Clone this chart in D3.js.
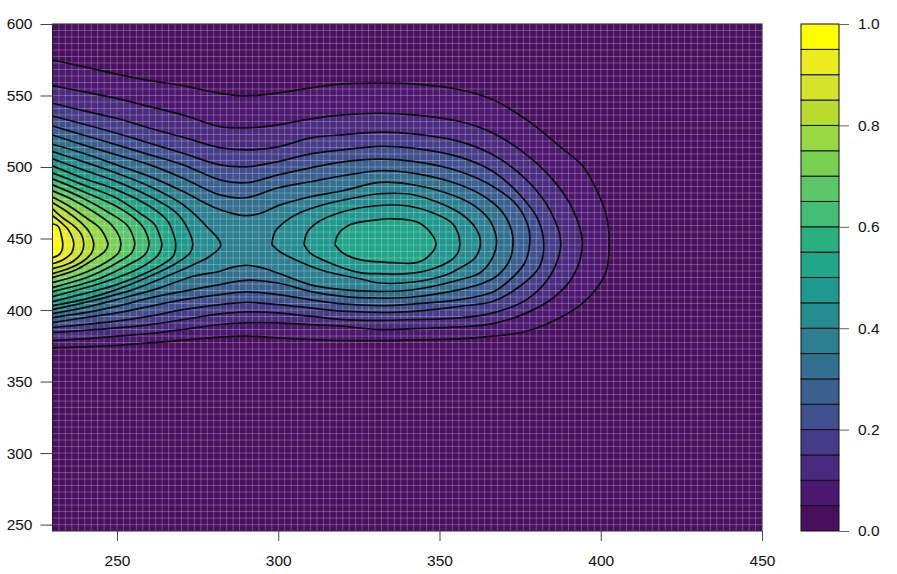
<!DOCTYPE html>
<html><head><meta charset="utf-8">
<script src="https://cdn.jsdelivr.net/npm/d3@7"></script>
<style>html,body{margin:0;background:#fff}svg{display:block}text{font-family:"Liberation Sans",Arial,sans-serif;font-size:15.5px;fill:#111}</style>
</head><body><div id="chart"></div>
<script>
const xTicks=[250,300,350,400,450];
const yTicks=[250,300,350,400,450,500,550,600];
const legendTicks=[0,0.2,0.4,0.6,0.8,1.0];
const levels=d3.range(0,1.0001,0.05);
const bandColors=["#4A1060","#4C176E","#4A2A7E","#463C89","#40508F","#39608F","#33708F","#2C7F90","#258C8F","#1F988D","#20A588","#2AB080","#42BD72","#5AC868","#78D152","#98D840","#B8DD2F","#D4E32A","#EAEC1D","#FFFF00"];

const c05=[[230,574.8],[239.5,570.2],[249.9,565],[260.2,560.4],[270.5,556.9],[281.9,551.5],[290,549.7],[300,551.8],[310,555.3],[320,558.1],[331.5,558.6],[341.8,558.1],[356.3,554],[366.6,547],[377,533],[387.3,514.4],[394.5,500.4],[398.7,484],[401.8,465.5],[402.6,446.8],[401.8,428],[399.2,416.6],[394.5,405],[387.3,394.6],[377,385.2],[366.6,381.7],[356.3,379.8],[341.8,379],[331.5,378.6],[319.8,378.7],[309.8,379.4],[299.9,380.5],[290,381.7],[281.9,381],[270.5,378.9],[260.2,377],[249.9,375.2],[239.5,374.2],[230,373.5]];
const c10=[[230,556.9],[239.5,552.7],[249.9,548],[260.2,542.2],[270.5,536.4],[281.9,528.3],[290,527.4],[300,529.5],[310,533.7],[320,536.5],[331.5,537.6],[341.8,536.5],[356.3,531.8],[366.6,523.7],[377,508.5],[385.2,491],[391.4,470.1],[394.3,446.8],[391.4,423.6],[385.2,408.4],[377,398],[366.6,390.5],[356.3,388.2],[341.8,387],[331.5,386.3],[319.8,388.7],[309.8,389.8],[299.9,391],[290,391],[281.9,389.9],[270.5,386.4],[260.2,383.6],[249.9,381.7],[239.5,379.8],[230,378.7]];
const c15=[[230,544.6],[239.5,539.4],[249.9,534.1],[260.2,527.1],[270.5,520.8],[281.9,513.6],[290,512],[300,514.1],[310,520.4],[320,522.5],[331.5,524.4],[341.8,523.2],[356.3,517.8],[366.6,508.5],[377,491],[384.2,470.1],[387.6,446.8],[384.2,423.6],[377,407.3],[366.6,398],[356.3,394.5],[341.8,393.3],[331.5,392.8],[319.8,393.3],[309.8,395.7],[299.9,398],[290,398.7],[281.9,397.3],[270.5,393.3],[260.2,389.8],[249.9,387.5],[239.5,385.7],[230,384.3]];
const c20=[[230,535.7],[239.5,530.1],[249.9,523.6],[260.2,516.6],[270.5,509.6],[281.9,501.5],[290,500.1],[300,503.8],[310,509.2],[320,512],[331.5,514.4],[341.8,513.2],[356.3,506.9],[366.6,496.9],[374.9,480.6],[380.6,463.1],[382.3,446.8],[381.1,430.6],[374.9,416.6],[366.6,406.1],[356.3,402.6],[341.8,399.1],[331.5,398.4],[319.8,399.2],[309.8,401.5],[299.9,403.8],[290,405.4],[281.9,403.8],[270.5,400.3],[260.2,395.7],[249.9,392.2],[239.5,389.8],[230,387.8]];
const c25=[[230,528.7],[239.5,522.4],[249.9,515.5],[260.2,508.5],[270.5,501.5],[281.9,491],[290,489],[300,494.5],[310,499.4],[320,503.6],[331.5,505.5],[341.8,503.9],[356.3,496.9],[366.6,486.4],[373.9,473.6],[377.5,458.5],[378,446.8],[376.4,432.9],[371.8,421],[366.6,412.6],[356.3,407.3],[341.8,404.2],[331.5,403.1],[319.8,404.3],[309.8,407.3],[299.9,410.8],[290,412.7],[281.9,410.8],[270.5,407.3],[260.2,402.6],[249.9,398],[239.5,394.5],[230,391.2]];
const c30=[[230,522.4],[239.5,515.5],[249.9,508.5],[260.2,501.5],[270.5,492.2],[281.9,480.5],[290,478.5],[300,485.5],[310,489.7],[320,493.9],[331.5,497.4],[341.8,495.7],[356.3,487.6],[364.6,478.3],[369.7,467.8],[372.3,456.2],[372.8,446.8],[371.8,435.2],[367.7,423.6],[362.5,418],[356.3,414.3],[341.8,409.1],[331.5,408.4],[319.8,409.6],[309.8,413.1],[299.9,418.9],[290,420.8],[281.9,417.8],[270.5,413.1],[260.2,408.5],[249.9,402.6],[239.5,398],[230,394.7]];
const c35=[[230,515.9],[239.5,509.6],[249.9,501.5],[260.2,493.3],[270.5,482.9],[280.4,471.5],[285,468],[290,466],[295,468],[300,473],[310,479.2],[320,483.4],[331.5,489.2],[341.8,487.6],[356.3,478.3],[362.5,470.1],[366.1,460.8],[367.7,446.8],[366.1,435.2],[362.5,425.9],[356.3,421.2],[341.8,414.2],[331.5,413.1],[319.8,414.3],[309.8,417.8],[299.9,425.9],[295,429.5],[290,431.3],[285,429.5],[281.9,427.1],[273.6,423.6],[263.3,415.5],[249.9,407.3],[239.5,401.5],[230,397.5]];
const c40L=[[230,510.8],[239.5,503.8],[249.9,495.7],[260.2,486.4],[270.5,473.6],[277.8,458.4],[282.2,445.7],[278.8,437.6],[273.6,431.7],[265.4,423.6],[255,414.3],[239.5,405],[230,400.3]];
const c40R=[[298,445.7],[299,454.8],[302,461.7],[306.7,468],[315.1,474.3],[325.3,479.2],[331.5,481.3],[341.8,480.6],[356.3,467.8],[361.5,456.2],[362.7,446.8],[361,436.4],[356.3,429.4],[352.2,424.7],[341.8,419.6],[331.5,418.9],[325.3,421.9],[315.1,426.8],[306.7,433.8],[300.5,440.8],[298,445.7]];
const c45L=[[230,505.7],[239.5,498],[249.9,489.8],[260.2,479.4],[268.5,467.7],[272.1,456.1],[273.5,445.7],[272.6,439.9],[268.5,432.9],[260.2,423.6],[249.9,414.3],[239.5,407.3],[230,403.1]];
const c45R=[[308,445.7],[308.9,454],[312,461],[320,468.7],[330.5,472.9],[339.8,472.9],[347,468.7],[353.8,461],[355.7,454],[356.3,445.7],[355.7,440],[353.8,435.2],[347,428.2],[339.8,425.4],[331.5,425.4],[325.3,426.1],[315.1,433.8],[309.8,440],[308,445.7]];
const c50L=[[230,500.8],[239.5,492.2],[249.9,484],[260.2,472.4],[265.4,463.1],[267.4,453.8],[268.2,445.7],[267.4,437.6],[261.2,428.3],[249.9,417.8],[239.5,411.3],[230,405.9]];
const c50R=[[317.6,445.7],[318.5,452.7],[322.2,459.6],[330.5,463.1],[335.5,463.8],[342.9,461.7],[347,454.7],[348.9,445.7],[346.1,436.6],[343,433.1],[335.5,433.1],[325.3,435.2],[320,440],[317.6,445.7]];
const c55=[[230,495.9],[239.5,487.5],[249.9,478.2],[257.1,467.7],[261.7,459.6],[263.3,451.4],[263.9,445.7],[262.8,438.7],[257.1,429.4],[246.8,420.1],[230,409.4]];
const c60=[[230,491.7],[239.5,482.9],[249.9,472.4],[256,463.1],[258.6,456.1],[259.9,445.7],[258.6,438.7],[253.5,431.7],[243.7,421.3],[230,412.9]];
const c65=[[230,487.5],[239.5,478.2],[247.8,467.7],[253,459.6],[255,451.4],[255.5,445.7],[254.5,439.9],[249.9,432.9],[241.6,423.6],[230,415.7]];
const c70=[[230,483.3],[236.4,477],[242.6,468.9],[248.3,459.6],[250.7,451.4],[251.2,445.7],[250.4,439.9],[246.2,432.9],[238.5,424.8],[230,419.2]];
const c75=[[230,479.1],[235.4,472.4],[240.6,464.2],[244.7,457.3],[246.8,449.1],[247.2,445.7],[246.2,441],[242.6,435.2],[237.5,428.3],[230,422.7]];
const c80=[[230,475],[234.4,468.9],[239,460.7],[241.6,453.8],[242.8,445.7],[242.1,439.9],[239.5,434.1],[235.4,429.4],[230,425.5]];
const c85=[[230,470.8],[233.3,464.2],[236.9,458.4],[239,452.6],[239.7,445.7],[239,439.9],[236.4,434.1],[232.8,430.6],[230,429]];
const c90=[[230,465.9],[232.3,461.9],[234.9,456.1],[236.2,450.3],[236.6,445.7],[235.9,439.9],[233.3,435.2],[230,432.4]];
const c95=[[230,460.3],[231.8,458.4],[232.8,451.4],[233.2,445.7],[232.8,441],[231.8,438.3],[230,436.6]];
const contourList=[[1,c05],[2,c10],[3,c15],[4,c20],[5,c25],[6,c30],[7,c35],[8,c40L],[8,c40R],[9,c45L],[9,c45R],[10,c50L],[10,c50R],[11,c55],[12,c60],[13,c65],[14,c70],[15,c75],[16,c80],[17,c85],[18,c90],[19,c95]];

const W=897,H=574,L=52.5,R=762,T=24,B=531;
const x=d3.scaleLinear().domain([230,450]).range([L,R]);
const y=d3.scaleLinear().domain([245.5,600]).range([B,T]);
const svg=d3.select("#chart").append("svg").attr("width",W).attr("height",H);
svg.append("defs").append("clipPath").attr("id","plot").append("rect").attr("x",L).attr("y",T).attr("width",R-L).attr("height",B-T);
const plot=svg.append("g").attr("clip-path","url(#plot)");
plot.append("rect").attr("x",L).attr("y",T).attr("width",R-L).attr("height",B-T).attr("fill",bandColors[0]);
const area=d3.line().x(d=>x(d[0])).y(d=>y(d[1])).curve(d3.curveCatmullRom.alpha(0.5));
plot.selectAll("path.band").data(contourList).join("path").attr("class","band")
  .attr("d",d=>area(d[1])).attr("fill",d=>bandColors[d[0]]).attr("stroke","none");
const gridX=d3.range(230,450.01,2), gridY=d3.range(0,79).map(i=>600-i*350/77);
plot.append("g").selectAll("line").data(gridX).join("line").attr("x1",d=>x(d)).attr("x2",d=>x(d)).attr("y1",T).attr("y2",B)
  .attr("stroke","#fff").attr("stroke-opacity",.28).attr("stroke-width",.9);
plot.append("g").selectAll("line").data(gridY).join("line").attr("y1",d=>y(d)).attr("y2",d=>y(d)).attr("x1",L).attr("x2",R)
  .attr("stroke","#fff").attr("stroke-opacity",.28).attr("stroke-width",.9);
plot.selectAll("path.iso").data(contourList).join("path").attr("class","iso")
  .attr("d",d=>area(d[1])).attr("fill","none").attr("stroke","#0c0c0c").attr("stroke-width",1.7);
svg.append("rect").attr("x",L).attr("y",T).attr("width",R-L).attr("height",B-T).attr("fill","none").attr("stroke","#222").attr("stroke-width",1);

const ax=d3.axisBottom(x).tickValues(xTicks).tickSize(10).tickPadding(14).tickFormat(d3.format("d"));
const gx=svg.append("g").attr("transform",`translate(0,${B})`).call(ax);
const ay=d3.axisLeft(y).tickValues(yTicks).tickSize(12).tickPadding(8).tickFormat(d3.format("d"));
const gy=svg.append("g").attr("transform",`translate(${L},0)`).call(ay);
[gx,gy].forEach(g=>{g.select(".domain").remove();g.selectAll("line").attr("stroke","#444");g.selectAll("text").attr("fill",null);g.attr("font-size",null).attr("font-family",null)});

const lx0=801,lx1=839;
const ly=d3.scaleLinear().domain([0,1]).range([B,T]);
const cells=bandColors.map((c,i)=>({c,a:levels[i],b:levels[i+1]}));
svg.append("g").selectAll("rect").data(cells).join("rect").attr("x",lx0).attr("width",lx1-lx0)
  .attr("y",d=>ly(d.b)).attr("height",d=>ly(d.a)-ly(d.b)).attr("fill",d=>d.c).attr("stroke","#111").attr("stroke-width",1);
const al=d3.axisRight(ly).tickValues(legendTicks).tickSize(10).tickPadding(9).tickFormat(d3.format(".1f"));
const gl=svg.append("g").attr("transform",`translate(${lx1},0)`).call(al);
gl.select(".domain").remove();gl.selectAll("line").attr("stroke","#666");gl.selectAll("text").attr("fill",null);
gl.attr("font-size",null).attr("font-family",null);
</script></body></html>
